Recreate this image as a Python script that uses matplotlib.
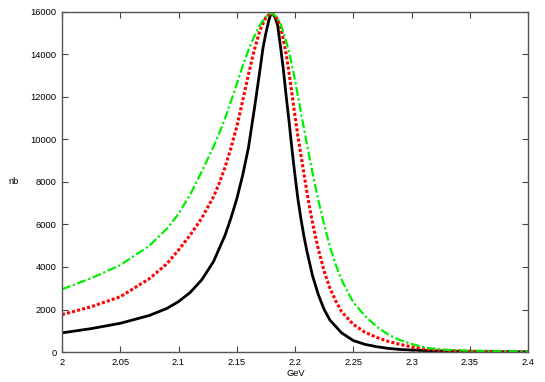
import numpy as np
import matplotlib
matplotlib.use('Agg')
import matplotlib.pyplot as plt
from matplotlib.ticker import FormatStrFormatter

plt.rcParams['font.family'] = ['Liberation Sans', 'DejaVu Sans']

# black solid curve
x_black = [2.0, 2.025, 2.05, 2.075, 2.09, 2.1, 2.11, 2.12, 2.13, 2.14, 2.145,
           2.15, 2.155, 2.16, 2.165, 2.17, 2.1725, 2.175, 2.1775, 2.1795,
           2.1825, 2.185, 2.1875, 2.19, 2.1925, 2.195, 2.1975, 2.2, 2.2025,
           2.205, 2.2075, 2.21, 2.2125, 2.215, 2.22, 2.225, 2.23, 2.24, 2.25,
           2.26, 2.27, 2.28, 2.29, 2.3, 2.32, 2.35, 2.4]
y_black = [900, 1100, 1350, 1720, 2050, 2370, 2800, 3400, 4250, 5500, 6300,
           7200, 8300, 9600, 11400, 13300, 14300, 15000, 15600, 15950,
           15800, 15400, 14400, 13300, 12000, 10800, 9500, 8300, 7200,
           6300, 5500, 4800, 4200, 3600, 2700, 2000, 1500, 900, 540,
           360, 250, 170, 120, 90, 50, 20, 5]

# red dotted curve
x_red = [2.0, 2.025, 2.05, 2.075, 2.09, 2.1, 2.11, 2.12, 2.13, 2.135, 2.14,
         2.145, 2.15, 2.155, 2.16, 2.165, 2.17, 2.175, 2.1795,
         2.1825, 2.185, 2.1875, 2.19, 2.1925, 2.195, 2.1975, 2.2, 2.2025,
         2.205, 2.2075, 2.21, 2.2125, 2.215, 2.2175, 2.22, 2.225, 2.23,
         2.235, 2.24, 2.25, 2.26, 2.27, 2.28, 2.29, 2.3, 2.313, 2.33, 2.35, 2.4]
y_red = [1760, 2130, 2600, 3450, 4150, 4800, 5500, 6300, 7300, 7950, 8700,
         9600, 10600, 11800, 13050, 14200, 15150, 15750, 15950,
         15850, 15650, 15300, 14700, 14000, 13100, 12100, 11100, 10150,
         9300, 8450, 7600, 6800, 6100, 5450, 4850, 3800, 3000,
         2400, 1900, 1300, 930, 690, 500, 360, 240, 125, 70, 35, 5]

# green dash-dot curve
x_green = [2.0, 2.025, 2.05, 2.075, 2.09, 2.1, 2.11, 2.12, 2.13, 2.135, 2.14,
           2.145, 2.15, 2.155, 2.16, 2.165, 2.17, 2.175, 2.1795,
           2.1825, 2.185, 2.1875, 2.19, 2.1925, 2.195, 2.2, 2.205, 2.21,
           2.215, 2.22, 2.225, 2.23, 2.235, 2.24, 2.245, 2.25, 2.26, 2.27,
           2.28, 2.29, 2.3, 2.313, 2.33, 2.35, 2.4]
y_green = [2950, 3470, 4090, 5000, 5800, 6500, 7400, 8500, 9650, 10300, 11000,
           11800, 12600, 13450, 14200, 14850, 15400, 15780, 15950,
           15850, 15700, 15450, 15050, 14600, 14100, 12800, 11300, 9850,
           8450, 7150, 6000, 4950, 4100, 3400, 2850, 2350, 1700, 1200,
           820, 560, 380, 190, 100, 60, 30]

x_ticks = [2.0, 2.05, 2.1, 2.15, 2.2, 2.25, 2.3, 2.35, 2.4]
y_ticks = np.arange(0, 16001, 2000)

fig = plt.figure(figsize=(5.45, 3.82), dpi=100)
ax = fig.add_axes([62 / 545, 1 - 352 / 382, 466 / 545, 340 / 382])

ax.plot(x_black, y_black, color='black', lw=2.0, solid_joinstyle='round')
ax.plot(x_red, y_red, color='#ff0000', lw=2.2, linestyle=(0, (1, 0.7)))
ax.plot(x_green, y_green, color='#00ee00', lw=1.6, linestyle=(0, (4, 1.2, 1, 1.2)))

ax.set_xlim(2.0, 2.4)
ax.set_ylim(0, 16000)
ax.set_xticks(x_ticks)
ax.set_yticks(y_ticks)
ax.xaxis.set_major_formatter(FormatStrFormatter('%g'))
ax.tick_params(direction='in', top=True, right=True, length=4, width=0.8,
               labelsize=6.7, color='#444444', pad=4)
for s in ax.spines.values():
    s.set_color('#555555')
    s.set_linewidth(1.0)

fig.text(14 / 545, 1 - 181 / 382, 'nb', fontsize=6.7, ha='center', va='center')
fig.text(296 / 545, 1 - 373 / 382, 'GeV', fontsize=6.7, ha='center', va='center')

fig.savefig('out.png', dpi=100)
